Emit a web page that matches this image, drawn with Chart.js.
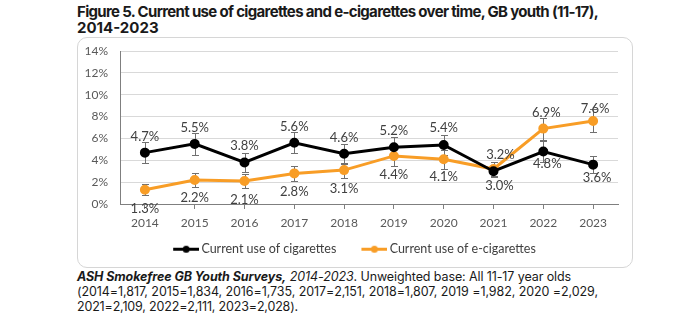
<!DOCTYPE html>
<html><head><meta charset="utf-8">
<script src="https://cdn.jsdelivr.net/npm/chart.js@4"></script>
<style>
html,body{margin:0;padding:0;background:#fff;width:700px;height:322px;overflow:hidden}
#title{position:absolute;left:77px;top:4px;font:700 15px Inter,sans-serif;line-height:16px;color:#1a1a1a}
#box{position:absolute;left:77px;top:37px;width:554px;height:229px;border:1px solid #d6d6d6;border-radius:10px}
#box canvas{display:block}
#foot{position:absolute;left:77px;top:269px;font:400 12.5px Inter,sans-serif;line-height:15px;color:#1a1a1a}
.ln{display:block;white-space:nowrap}
.ln span.m{display:inline-block}
</style></head>
<body>
<div id="title"><div class="ln"><span class="m" data-w="521">Figure 5. Current use of cigarettes and e-cigarettes over time, GB youth (11-17),</span></div><div class="ln"><span class="m">2014-2023</span></div></div>
<div id="box"><canvas id="c" width="554" height="229"></canvas></div>
<div id="foot"><div class="ln"><span class="m" data-w="494"><b><i>ASH Smokefree GB Youth Surveys,</i></b> <i>2014-2023</i>. Unweighted base: All 11-17 year olds</span></div><div class="ln"><span class="m" data-w="521">(2014=1,817, 2015=1,834, 2016=1,735, 2017=2,151, 2018=1,807, 2019 =1,982, 2020 =2,029,</span></div><div class="ln"><span class="m" data-w="221">2021=2,109, 2022=2,111, 2023=2,028).</span></div></div>
<script>
// ---- data ----
const years = ['2014','2015','2016','2017','2018','2019','2020','2021','2022','2023'];
const cigarettes = [4.7, 5.5, 3.8, 5.6, 4.6, 5.2, 5.4, 3.0, 4.8, 3.6];
const eCigarettes = [1.3, 2.2, 2.1, 2.8, 3.1, 4.4, 4.1, 3.2, 6.9, 7.6];
const cigError = [0.95, 1.0, 0.9, 0.95, 0.92, 0.9, 0.95, 0.55, 0.95, 0.77];
const eCigError = [0.5, 0.65, 0.6, 0.67, 0.68, 0.88, 0.87, 0.6, 1.0, 1.05];
const yTickValues = [0, 2, 4, 6, 8, 10, 12, 14];
const seriesNames = ['Current use of cigarettes', 'Current use of e-cigarettes'];

// ---- styles ----
const BLACK = '#000000';
const ORANGE = '#F89D26';
// value-label placement (pixels): signed vertical offset (negative = above) and horizontal nudge
const cigLabelDy  = [-16,-16,-17,-16,-16,-16,-17, 15, 12, 13];
const cigLabelDx  = [0,0,0,0,0,0,0, 6, 4, 4];
const eCigLabelDy = [19, 18, 19, 18, 19, 19, 18, -14, -16, -12];
const eCigLabelDx = [0,0,0,0,0,0,0, 7, 3, 2];

function fitLines(){
  document.querySelectorAll('span.m[data-w]').forEach(el=>{
    const target = +el.dataset.w;
    const w = el.getBoundingClientRect().width;
    const n = el.textContent.length;
    el.style.letterSpacing = ((target - w) / n) + 'px';
  });
}

// legend marker: blank left part + 26px line with a dot in its middle
function legendIcon(color){
  const c = document.createElement('canvas');
  c.width = 43; c.height = 9;
  const g = c.getContext('2d');
  g.strokeStyle = color; g.lineWidth = 3;
  g.beginPath(); g.moveTo(17, 4.5); g.lineTo(43, 4.5); g.stroke();
  g.fillStyle = color;
  g.beginPath(); g.arc(30, 4.5, 3.5, 0, Math.PI*2); g.fill();
  return c;
}

const errorBars = {
  id: 'errorBars',
  beforeDatasetsDraw(chart, args, opts){
    const ctx = chart.ctx, y = chart.scales.y;
    ctx.save();
    ctx.strokeStyle = opts.color; ctx.lineWidth = 1;
    chart.data.datasets.forEach((ds, di) => {
      const meta = chart.getDatasetMeta(di);
      meta.data.forEach((pt, i) => {
        const v = ds.data[i], e = ds.errors[i];
        const t = Math.round(y.getPixelForValue(v + e)) + 0.5;
        const b = Math.round(y.getPixelForValue(v - e)) + 0.5;
        const x = Math.round(pt.x) + 0.5;
        ctx.beginPath();
        ctx.moveTo(x, t); ctx.lineTo(x, b);
        ctx.moveTo(x - 3.5, t); ctx.lineTo(x + 3.5, t);
        ctx.moveTo(x - 3.5, b); ctx.lineTo(x + 3.5, b);
        ctx.stroke();
      });
    });
    ctx.restore();
  }
};

const valueLabels = {
  id: 'valueLabels',
  afterDatasetsDraw(chart, args, opts){
    const ctx = chart.ctx;
    ctx.save();
    ctx.font = opts.font;
    ctx.fillStyle = opts.color;
    ctx.textAlign = 'center';
    ctx.textBaseline = 'middle';
    chart.data.datasets.forEach((ds, di) => {
      const meta = chart.getDatasetMeta(di);
      meta.data.forEach((pt, i) => {
        ctx.fillText(ds.data[i].toFixed(1) + '%', pt.x + ds.labelDx[i], pt.y + ds.labelDy[i]);
      });
    });
    ctx.restore();
  }
};

function draw(){
  fitLines();
  new Chart(document.getElementById('c'), {
    type: 'line',
    data: {
      labels: years,
      datasets: [
        {label: seriesNames[0], data: cigarettes, errors: cigError, labelDy: cigLabelDy, labelDx: cigLabelDx,
         borderColor: BLACK, backgroundColor: BLACK, pointBackgroundColor: BLACK, pointBorderColor: BLACK,
         borderWidth: 3, pointRadius: 3.5, tension: 0, icon: legendIcon(BLACK)},
        {label: seriesNames[1], data: eCigarettes, errors: eCigError, labelDy: eCigLabelDy, labelDx: eCigLabelDx,
         borderColor: ORANGE, backgroundColor: ORANGE, pointBackgroundColor: ORANGE, pointBorderColor: ORANGE,
         borderWidth: 3, pointRadius: 3.5, tension: 0, icon: legendIcon(ORANGE)}
      ]
    },
    options: {
      responsive: false, animation: false, devicePixelRatio: 1,
      layout: {padding: {left: 0, right: 14, top: 13, bottom: 1.5}},
      scales: {
        x: {
          offset: true,
          grid: {drawOnChartArea: false, drawTicks: true, tickLength: 5, color: '#7f7f7f'},
          border: {color: '#7f7f7f', width: 1},
          ticks: {font: {family: 'Lato', size: 12}, color: '#595959', padding: 7, maxRotation: 0, autoSkip: false},
          afterFit(s){ s.height = 27; s.paddingLeft = 0; s.paddingRight = 0; }
        },
        y: {
          min: 0, max: 14,
          afterBuildTicks(s){ s.ticks = yTickValues.map(v => ({value: v})); },
          grid: {color: '#d9d9d9', drawTicks: false},
          border: {color: '#7f7f7f', width: 1},
          ticks: {font: {family: 'Lato', size: 12}, color: '#595959', padding: 12, callback: v => v + '%'},
          afterFit(s){ s.width = 42; s.paddingTop = 0; s.paddingBottom = 0; }
        }
      },
      plugins: {
        legend: {
          position: 'bottom',
          labels: {
            usePointStyle: true, pointStyleWidth: 35, padding: 12,
            font: {family: 'Lato', size: 12.5}, color: '#404040',
            generateLabels(chart){
              const items = Chart.defaults.plugins.legend.labels.generateLabels(chart);
              items.forEach(it => { it.pointStyle = chart.data.datasets[it.datasetIndex].icon; });
              return items;
            }
          }
        },
        tooltip: {enabled: false},
        errorBars: {color: '#707070'},
        valueLabels: {font: '13px Lato', color: '#404040'}
      }
    },
    plugins: [errorBars, valueLabels]
  });
}

Promise.all([document.fonts.load('12px Lato'), document.fonts.load('13px Lato'), document.fonts.load('700 15px Inter'), document.fonts.load('12.5px Inter'), document.fonts.load('italic 700 12.5px Inter'), document.fonts.load('italic 12.5px Inter')])
  .then(draw, draw);
</script>
</body></html>
